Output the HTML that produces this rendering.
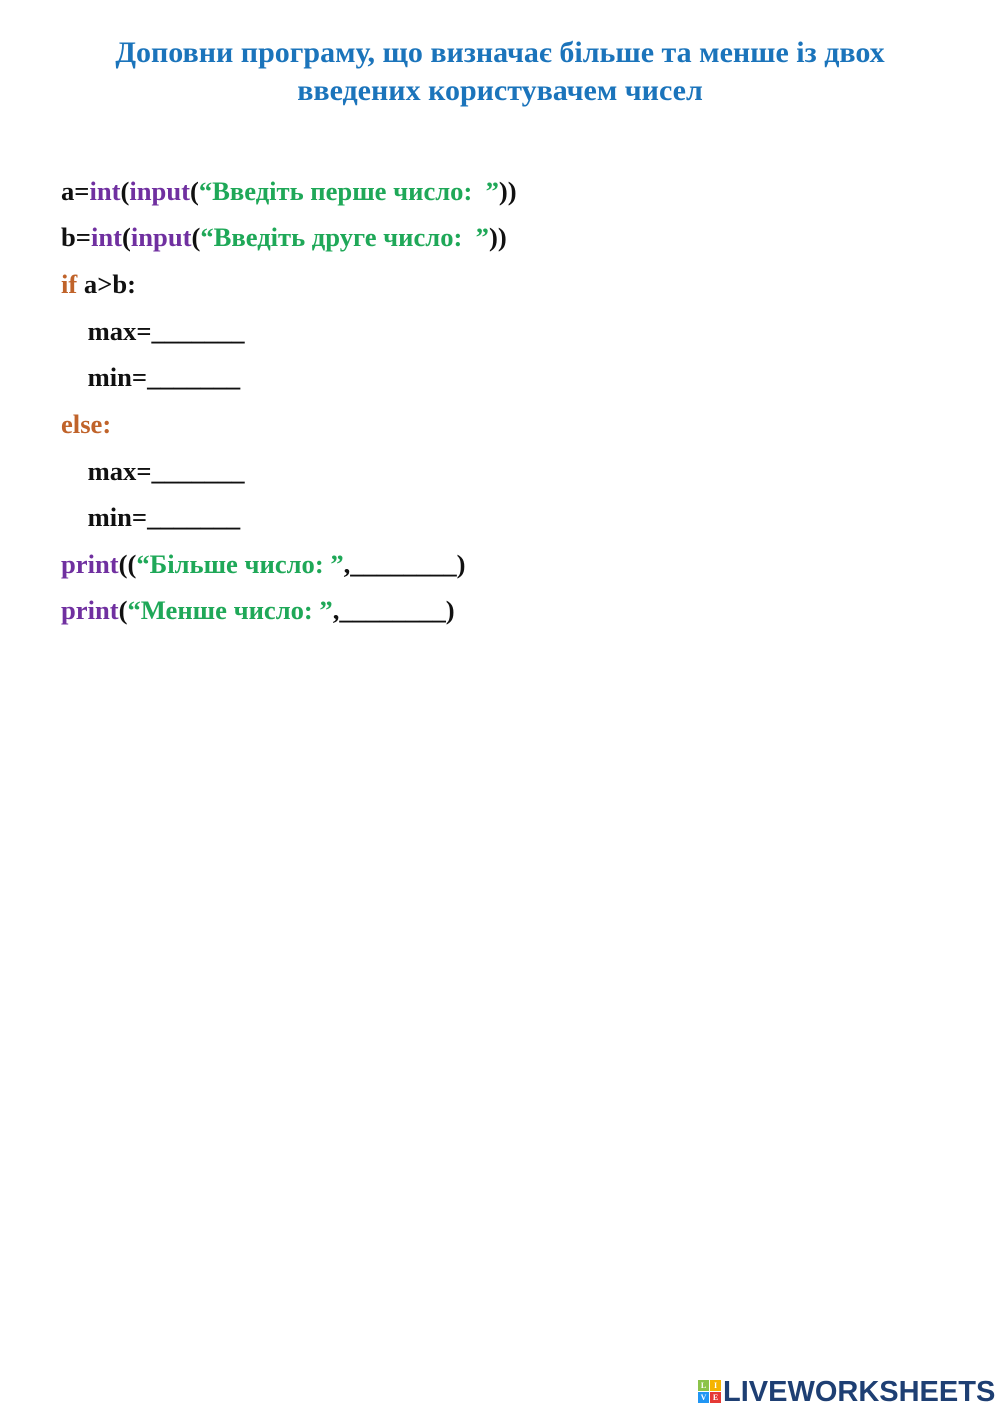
<!DOCTYPE html>
<html><head><meta charset="utf-8"><style>
body{margin:0;width:1000px;height:1413px;background:#fff;position:relative;font-family:"Liberation Serif","DejaVu Serif",serif;font-weight:bold;}
.t{position:absolute;left:0;width:1000px;text-align:center;color:#1b74bb;font-size:30px;line-height:34px;}
.l{position:absolute;left:61px;font-size:26.6px;color:#111;white-space:pre;line-height:30px;}
.p{color:#7030a0}.g{color:#1fa858}.o{color:#c0632a}
.logo{position:absolute;left:698px;top:1376px;font-family:"Liberation Sans",sans-serif;font-weight:bold;font-size:29px;color:#1e3f73;letter-spacing:0px;}
.sq{position:absolute;width:11px;height:11px;font-size:8px;color:#fff;text-align:center;line-height:11px}
</style></head><body>
<div class="t" style="top:36px">Доповни програму, що визначає більше та менше із двох</div>
<div class="t" style="top:74px">введених користувачем чисел</div>
<div class="l" style="top:176px">a=<span class="p">int</span>(<span class="p">input</span>(<span class="g">“Введіть перше число:  ”</span>))</div>
<div class="l" style="top:222px">b=<span class="p">int</span>(<span class="p">input</span>(<span class="g">“Введіть друге число:  ”</span>))</div>
<div class="l" style="top:269px"><span class="o">if</span> a&gt;b:</div>
<div class="l" style="top:316px">    max=_______</div>
<div class="l" style="top:362px">    min=_______</div>
<div class="l" style="top:409px"><span class="o">else:</span></div>
<div class="l" style="top:456px">    max=_______</div>
<div class="l" style="top:502px">    min=_______</div>
<div class="l" style="top:549px"><span class="p">print</span>((<span class="g">“Більше число: ”</span>,________)</div>
<div class="l" style="top:595px"><span class="p">print</span>(<span class="g">“Менше число: ”</span>,________)</div>
<div class="sq" style="left:698px;top:1380px;background:#8bc34a">L</div>
<div class="sq" style="left:710px;top:1380px;background:#f5b400">I</div>
<div class="sq" style="left:698px;top:1392px;background:#2196f3">V</div>
<div class="sq" style="left:710px;top:1392px;background:#e53935">E</div>
<div class="logo" style="left:723px">LIVEWORKSHEETS</div>
</body></html>
